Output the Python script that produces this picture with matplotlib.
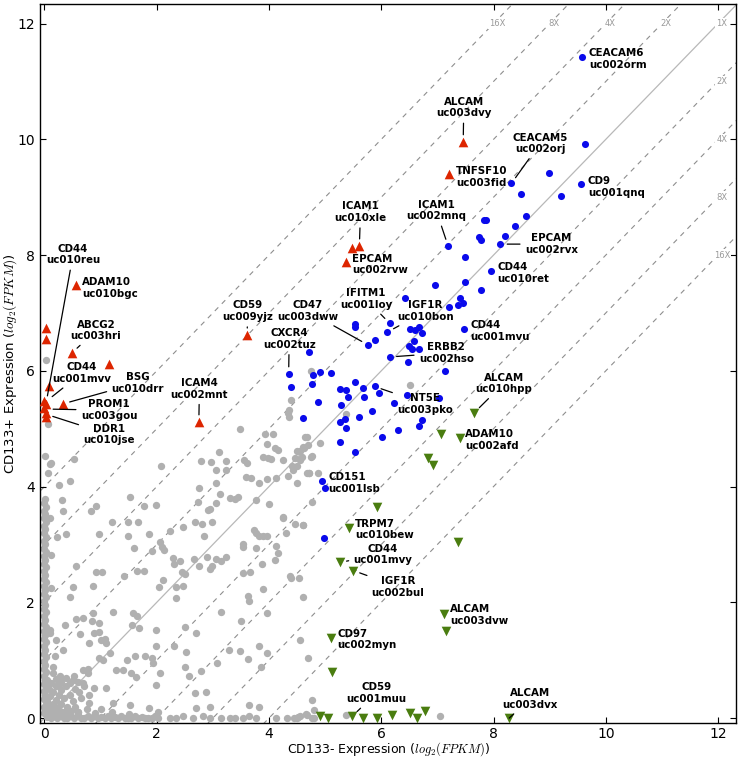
import matplotlib
matplotlib.use('Agg')
import matplotlib.pyplot as plt
import numpy as np

plt.rcParams['mathtext.fontset'] = 'cm'
plt.rcParams['font.family'] = ['DejaVu Sans']

# ---------------- data (log2 FPKM) ----------------
# grey: genes not called differentially expressed
grey_col_x = [0.0, 0.01, 0.0, 0.02, 0.0, 0.01, 0.0, 0.02, 0.0, 0.01, 0.0, 0.02, 0.0, 0.01, 0.0, 0.02,
              0.0, 0.01, 0.0, 0.02, 0.0, 0.01, 0.0, 0.02, 0.0, 0.01, 0.0, 0.02, 0.0, 0.01, 0.0, 0.02,
              0.0, 0.01, 0.0, 0.02, 0.0, 0.01, 0.0, 0.02, 0.0, 0.01, 0.0, 0.02, 0.0, 0.01, 0.0, 0.02,
              0.0, 0.01, 0.0, 0.02, 0.0, 0.01, 0.0, 0.02, 0.0, 0.01, 0.01, 0.06, 0.03]
grey_col_y = [0.08, 0.14, 0.2, 0.27, 0.33, 0.4, 0.46, 0.53, 0.59, 0.66, 0.72, 0.79, 0.85, 0.92, 0.98, 1.05,
              1.11, 1.18, 1.24, 1.31, 1.37, 1.44, 1.5, 1.57, 1.63, 1.7, 1.76, 1.83, 1.89, 1.96, 2.02, 2.09,
              2.15, 2.22, 2.28, 2.35, 2.41, 2.48, 2.54, 2.61, 2.67, 2.74, 2.8, 2.87, 2.93, 3.0, 3.06, 3.13,
              3.19, 3.26, 3.32, 3.39, 3.45, 3.52, 3.58, 3.65, 3.72, 3.78, 4.53, 5.09, 6.19]

grey_row_x = [0.05, 0.11, 0.17, 0.23, 0.29, 0.35, 0.41, 0.47, 0.53, 0.59, 0.65, 0.71, 0.77, 0.83, 0.89, 0.95,
              1.01, 1.07, 1.13, 1.19, 1.25, 1.31, 1.37, 1.43, 1.49, 1.55, 1.61, 1.67, 1.73, 1.79, 1.85, 1.91,
              1.97, 2.03, 2.23, 2.35, 2.47, 2.64, 2.82, 2.94, 3.15, 3.30, 3.40, 3.54, 3.65, 3.76, 4.13, 4.32,
              4.44, 4.52, 4.66, 4.49, 4.55, 4.80, 4.77, 4.68, 4.81, 5.38, 7.04,
              0.30, 0.60, 0.90, 1.20, 1.50, 0.40, 1.00]
grey_row_y = [0.02, 0.0, 0.03, 0.0, 0.04, 0.01, 0.0, 0.03, 0.0, 0.05, 0.01, 0.0, 0.03, 0.0, 0.04, 0.0,
              0.02, 0.0, 0.03, 0.0, 0.02, 0.0, 0.03, 0.0, 0.01, 0.0, 0.03, 0.0, 0.02, 0.0, 0.01, 0.0,
              0.03, 0.0, 0.01, 0.0, 0.03, 0.01, 0.03, 0.0, 0.01, 0.0, 0.01, 0.0, 0.03, 0.0, 0.0, 0.0,
              0.01, 0.02, 0.07, 0.0, 0.03, 0.0, 0.0, 0.06, 0.14, 0.06, 0.03,
              0.09, 0.10, 0.08, 0.10, 0.07, 0.14, 0.15]

grey_corner_x = [0.05, 0.10, 0.12, 0.18, 0.08, 0.15, 0.22, 0.25, 0.28, 0.05, 0.20, 0.30, 0.35, 0.10, 0.25,
                 0.35, 0.40, 0.42, 0.15, 0.30, 0.45, 0.50, 0.48, 0.08, 0.20, 0.38, 0.55, 0.55, 0.60, 0.12,
                 0.30, 0.45, 0.60, 0.65, 0.20, 0.38, 0.52, 0.70, 0.75, 0.05, 0.62, 0.80, 0.68, 0.16, 0.26]
grey_corner_y = [0.10, 0.05, 0.15, 0.08, 0.22, 0.25, 0.18, 0.05, 0.12, 0.30, 0.32, 0.25, 0.10, 0.38, 0.40,
                 0.35, 0.20, 0.05, 0.45, 0.48, 0.40, 0.30, 0.12, 0.50, 0.55, 0.55, 0.50, 0.20, 0.10, 0.60,
                 0.62, 0.60, 0.62, 0.35, 0.68, 0.70, 0.72, 0.55, 0.15, 0.65, 0.45, 0.40, 0.83, 0.88, 0.58]

grey_x = [0.10, 0.06, 0.52, 0.26, 0.45, 0.12,
          0.31, 0.33, 0.09, 1.53, 1.78, 1.99, 0.83, 0.92, 1.20, 1.49, 1.66, 2.73, 2.91, 2.94, 3.05,
          2.69, 2.99, 3.77, 4.00, 4.25, 4.47,
          0.39, 0.22, 0.98, 1.49, 1.87, 2.23, 1.60, 1.91, 2.05, 2.09, 2.13, 2.47, 2.81, 2.85, 3.54, 3.54,
          3.73, 3.77, 3.82, 3.89, 3.96, 3.77, 4.13, 4.16, 4.31, 4.60, 0.12,
          0.56, 0.92, 0.86, 1.02, 1.41, 1.65, 1.77, 2.12, 2.29, 2.30, 2.41, 2.45, 2.50, 2.67, 2.75, 2.89,
          2.94, 2.99, 3.06, 3.15, 3.23, 3.54, 3.67, 3.87, 4.10, 4.37, 4.53, 0.12,
          0.51, 0.45, 0.68, 0.86, 0.97, 1.22, 1.57, 1.65, 2.04, 2.35, 2.47, 2.35, 3.15, 3.62, 3.64, 3.89,
          3.96, 4.60,
          0.10, 0.21, 0.37, 0.56, 0.64, 0.85, 0.89, 0.98, 0.80, 1.00, 1.08, 1.10, 1.16, 1.56, 1.69, 1.99,
          2.51, 2.70, 3.51, 3.83, 3.96, 4.55, 0.33, 0.18, 0.98, 1.05, 1.47, 1.61, 1.79, 1.91, 1.98, 2.30,
          2.53, 3.29, 3.49, 3.62, 0.09,
          0.15, 0.28, 0.51, 0.77, 0.78, 0.68, 0.89, 1.10, 1.27, 1.40, 1.54, 1.63, 1.94, 2.05, 1.99, 2.50,
          2.57, 2.78, 3.08, 3.86, 4.69, 2.68, 2.88, 3.65, 3.83, 0.80, 1.22, 1.52, 1.87, 2.02, 2.70, 2.94,
          4.74, 4.40, 4.34, 4.36, 3.48, 4.07, 3.97, 4.10, 4.16, 4.64, 4.68, 4.90, 4.62, 4.55, 4.49, 3.11,
          2.79, 2.96, 3.23, 3.06, 3.23, 3.56, 3.61, 3.89, 3.98, 4.04, 4.25, 4.76, 4.41, 4.68, 4.87, 4.34,
          3.59, 3.68, 3.83, 3.96, 4.13, 3.05, 2.75, 3.12, 3.30, 3.39, 3.45, 2.07,
          6.52, 5.38, 4.58, 4.50, 4.43, 4.72, 4.50, 4.77, 4.61, 4.40, 4.77, 4.47, 4.75, 4.56, 4.71,
          4.25, 4.69, 4.60, 4.35, 3.93]
grey_y = [4.39, 4.23, 4.48, 4.02, 4.10, 4.40,
          3.76, 3.57, 3.45, 3.82, 3.66, 3.68, 3.57, 3.67, 3.38, 3.38, 3.38, 3.74, 3.59, 3.61, 3.72,
          3.38, 3.38, 3.76, 3.70, 3.47, 3.36,
          3.18, 3.13, 3.18, 3.14, 3.18, 3.23, 2.94, 2.88, 3.04, 2.96, 2.90, 3.31, 3.36, 3.15, 3.01, 2.96,
          3.25, 3.20, 3.14, 3.14, 3.14, 2.94, 2.98, 2.85, 3.20, 3.34, 2.82,
          2.62, 2.53, 2.29, 2.52, 2.46, 2.54, 2.54, 2.38, 2.76, 2.67, 2.72, 2.53, 2.49, 2.75, 2.62, 2.79,
          2.58, 2.62, 2.75, 2.72, 2.79, 2.50, 2.53, 2.66, 2.73, 2.45, 2.42, 2.25,
          2.27, 2.10, 1.73, 1.81, 1.65, 1.83, 1.81, 1.77, 2.27, 2.27, 2.29, 2.07, 1.84, 2.11, 2.03, 2.23,
          1.81, 2.10,
          1.53, 1.35, 1.61, 1.71, 1.46, 1.67, 1.47, 1.48, 1.30, 1.35, 1.36, 1.30, 1.12, 1.61, 1.55, 1.53,
          1.58, 1.47, 1.67, 1.24, 1.12, 1.35, 1.18, 1.07, 1.04, 1.01, 1.00, 1.07, 1.07, 1.03, 1.24, 1.24,
          1.15, 1.18, 1.16, 1.02, 1.47,
          0.78, 0.72, 0.66, 0.85, 0.78, 0.60, 0.52, 0.52, 0.83, 0.83, 0.78, 0.71, 0.95, 0.78, 0.58, 0.89,
          0.72, 0.81, 0.95, 0.89, 1.04, 0.43, 0.45, 0.23, 0.20, 0.26, 0.26, 0.23, 0.17, 0.10, 0.17, 0.20,
          5.99, 5.50, 5.27, 5.20, 4.99, 4.91, 4.74, 4.67, 4.64, 4.85, 4.85, 4.76, 4.67, 4.62, 4.61, 4.59,
          4.44, 4.42, 4.45, 4.29, 4.28, 4.46, 4.41, 4.51, 4.50, 4.48, 4.46, 4.53, 4.35, 4.23, 4.23, 4.18,
          4.16, 4.14, 4.07, 4.13, 4.14, 4.06, 3.97, 3.87, 3.80, 3.78, 3.82, 4.35,
          5.76, 5.25, 4.51, 4.36, 4.29, 4.23, 4.07, 3.74, 3.34, 2.42, 0.32, 4.49, 4.52, 4.46, 4.23,
          3.45, 4.72, 4.68, 5.33, 4.91]

# blue: expressed in both, not flagged
blue_x = [9.58, 9.63, 8.98, 9.56, 8.32, 8.49, 9.20, 7.83, 7.86, 8.57, 8.38, 7.74, 7.78, 8.21, 8.12,
          7.19, 7.50, 7.96, 7.49, 7.77, 7.41, 6.95, 6.42, 7.45, 7.37, 7.20, 7.48, 6.15, 6.11, 6.52,
          6.60, 6.67, 6.72, 5.53, 5.54, 5.76, 5.89, 6.49, 6.54, 6.67, 6.59, 6.15, 6.47, 7.14, 4.72,
          4.35, 4.78, 4.91, 5.11, 4.40, 4.76, 4.88, 4.60, 5.26, 5.37, 5.40, 5.53, 5.68, 5.88, 5.96,
          5.70, 5.28, 5.83, 5.60, 5.26, 5.35, 5.38, 5.27, 5.54, 6.02, 6.29, 6.23, 6.45, 7.03, 6.73,
          6.68, 4.95, 4.99, 4.98]
blue_y = [11.43, 9.92, 9.42, 9.23, 9.24, 9.05, 9.03, 8.60, 8.61, 8.68, 8.51, 8.31, 8.26, 8.33, 8.19,
          8.16, 7.97, 7.73, 7.54, 7.39, 7.26, 7.48, 7.26, 7.17, 7.14, 7.10, 6.72, 6.82, 6.67, 6.72,
          6.71, 6.76, 6.66, 6.81, 6.75, 6.45, 6.53, 6.43, 6.38, 6.37, 6.52, 6.24, 6.15, 5.99, 6.33,
          5.95, 5.92, 5.98, 5.96, 5.72, 5.77, 5.47, 5.19, 5.68, 5.67, 5.54, 5.81, 5.71, 5.73, 5.62,
          5.54, 5.41, 5.30, 5.20, 5.12, 5.16, 5.01, 4.77, 4.59, 4.86, 4.98, 5.44, 5.58, 5.53, 5.15,
          5.04, 4.09, 3.98, 3.12]

# red: up in CD133+
red_x = [0.565, 0.03, 0.03, 0.49, 1.15, 0.08, 0.0, 0.02, 0.0, 0.03, 0.02, 0.33, 2.75, 3.61, 7.46,
         7.21, 5.47, 5.61, 5.37]
red_y = [7.48, 6.74, 6.55, 6.31, 6.12, 5.73, 5.48, 5.42, 5.35, 5.28, 5.20, 5.43, 5.12, 6.62, 9.96,
         9.40, 8.13, 8.16, 7.88]

# green: down in CD133+
green_x = [7.66, 7.06, 7.40, 6.84, 6.93, 5.93, 5.42, 7.36, 5.26, 5.50, 7.12, 7.15, 5.11, 5.12,
           4.91, 5.06, 5.48, 5.67, 5.93, 6.20, 6.52, 6.63, 6.78, 8.28]
green_y = [5.28, 4.91, 4.84, 4.49, 4.37, 3.65, 3.28, 3.05, 2.69, 2.55, 1.80, 1.51, 1.38, 0.80,
           0.03, 0.0, 0.03, 0.0, 0.0, 0.05, 0.09, 0.0, 0.12, 0.0]

# labels placed right of the point, no leader line
side_labels = ['CEACAM6\nuc002orm', 'TNFSF10\nuc003fid', 'CD9\nuc001qnq', 'CD44\nuc010ret',
               'EPCAM\nuc002rvw', 'ADAM10\nuc010bgc', 'CD44\nuc001mvu', 'ADAM10\nuc002afd',
               'CD151\nuc001lsb', 'TRPM7\nuc010bew', 'ALCAM\nuc003dvw', 'CD97\nuc002myn']
side_x = [9.70, 7.33, 9.68, 8.07, 5.48, 0.67, 7.59, 7.50, 5.06, 5.53, 7.23, 5.22]
side_y = [11.39, 9.35, 9.18, 7.69, 7.84, 7.43, 6.69, 4.81, 4.06, 3.26, 1.78, 1.36]

# labels with leader lines
lead_labels = ['CD44\nuc010reu', 'ABCG2\nuc003hri', 'CD44\nuc001mvv', 'BSG\nuc010drr',
               'PROM1\nuc003gou', 'DDR1\nuc010jse', 'ICAM4\nuc002mnt', 'CD59\nuc009yjz',
               'CXCR4\nuc002tuz', 'CD47\nuc003dww', 'IFITM1\nuc001loy', 'IGF1R\nuc010bon',
               'ERBB2\nuc002hso', 'ICAM1\nuc010xle', 'ICAM1\nuc002mnq', 'ALCAM\nuc003dvy',
               'CEACAM5\nuc002orj', 'EPCAM\nuc002rvx', 'NT5E\nuc003pko', 'ALCAM\nuc010hpp',
               'CD44\nuc001mvy', 'IGF1R\nuc002bul', 'CD59\nuc001muu', 'ALCAM\nuc003dvx']
lead_tx = [0.51, 0.92, 0.66, 1.66, 1.15, 1.15, 2.76, 3.62, 4.36, 4.69, 5.73, 6.79,
           7.16, 5.63, 6.98, 7.47, 8.83, 9.03, 6.78, 8.18, 6.03, 6.30, 5.91, 8.65]
lead_ty = [8.01, 6.70, 5.96, 5.79, 5.32, 4.90, 5.69, 7.03, 6.55, 7.03, 7.24, 7.03,
           6.31, 8.74, 8.77, 10.55, 9.93, 8.19, 5.43, 5.78, 2.83, 2.27, 0.43, 0.33]
lead_px = [0.03, 0.49, 0.04, 0.33, 0.03, 0.03, 2.75, 3.61, 4.35, 5.76, 6.15, 6.11,
           6.15, 5.61, 7.19, 7.46, 8.32, 8.12, 5.88, 7.66, 5.26, 5.50, 5.48, 8.28]
lead_py = [5.45, 6.31, 5.48, 5.43, 5.34, 5.25, 5.12, 6.62, 5.95, 6.45, 6.82, 6.67,
           6.24, 8.16, 8.16, 9.96, 9.24, 8.19, 5.73, 5.28, 2.69, 2.55, 0.03, 0.0]

fold_names = ['1X', '2X', '4X', '8X', '16X']
fold_offsets = [0, 1, 2, 3, 4]

# ---------------- figure ----------------
fig = plt.figure(figsize=(7.42, 7.59), dpi=100)
ax = fig.add_axes([0.0539, 0.0478, 0.938, 0.947])
ax.set_xlim(-0.08, 12.32)
ax.set_ylim(-0.08, 12.34)

line_x = np.array([-1.0, 14.0])
for k in fold_offsets:
    if k == 0:
        ax.plot(line_x, line_x, color='#b8b8b8', lw=0.9, zorder=1)
    else:
        for s in (1, -1):
            ax.plot(line_x, line_x + s * k, color='#8e8e8e', lw=0.8,
                    ls=(0, (4.5, 4.5)), zorder=1)

lab_bbox = dict(boxstyle='square,pad=0.15', fc='white', ec='none')
for name, k in zip(fold_names, fold_offsets):
    ax.text(12.0 - k + 0.07, 12.0, name, fontsize=6, color='#999999',
            ha='center', va='center', bbox=lab_bbox, zorder=3)
    if k > 0:
        ax.text(12.07, 12.0 - k, name, fontsize=6, color='#999999',
                ha='center', va='center', bbox=lab_bbox, zorder=3)

ax.scatter(grey_col_x, grey_col_y, s=28, c='#b0b0b0', linewidths=0, zorder=2)
ax.scatter(grey_row_x, grey_row_y, s=28, c='#b0b0b0', linewidths=0, zorder=2)
ax.scatter(grey_corner_x, grey_corner_y, s=28, c='#b0b0b0', linewidths=0, zorder=2)
ax.scatter(grey_x, grey_y, s=28, c='#b0b0b0', linewidths=0, zorder=2)
ax.scatter(blue_x, blue_y, s=26, c='#0a0aeb', linewidths=0, zorder=4)
ax.scatter(red_x, red_y, s=48, marker='^', c='#dd2500', linewidths=0, zorder=4)
ax.scatter(green_x, green_y, s=48, marker='v', c='#4a7d10', linewidths=0, zorder=4)

fs = 7.4
for t, x, y in zip(side_labels, side_x, side_y):
    ax.text(x, y, t, fontsize=fs, fontweight='bold', ha='left', va='center',
            multialignment='left', zorder=5)

for t, tx, ty, px, py in zip(lead_labels, lead_tx, lead_ty, lead_px, lead_py):
    ax.annotate(t, xy=(px, py), xytext=(tx, ty), fontsize=fs, fontweight='bold',
                ha='center', va='center', multialignment='center', zorder=5,
                arrowprops=dict(arrowstyle='-', color='black', lw=0.9,
                                shrinkA=1.5, shrinkB=5))

ax.set_xticks(range(0, 13, 2))
ax.set_yticks(range(0, 13, 2))
ax.tick_params(direction='in', top=True, right=True, length=4, width=0.8,
               labelsize=10, pad=3.5)
ax.tick_params(axis='x', pad=2.8)
for sp in ax.spines.values():
    sp.set_linewidth(1.0)

ax.set_xlabel(r'CD133- Expression ($log_2(FPKM)$)', fontsize=9, va='center')
ax.set_ylabel(r'CD133+ Expression ($log_2(FPKM)$)', fontsize=9.5, va='center')
ax.xaxis.set_label_coords(0.5, -0.0372)
ax.yaxis.set_label_coords(-0.043, 0.5)

fig.savefig('out.png', dpi=100)
